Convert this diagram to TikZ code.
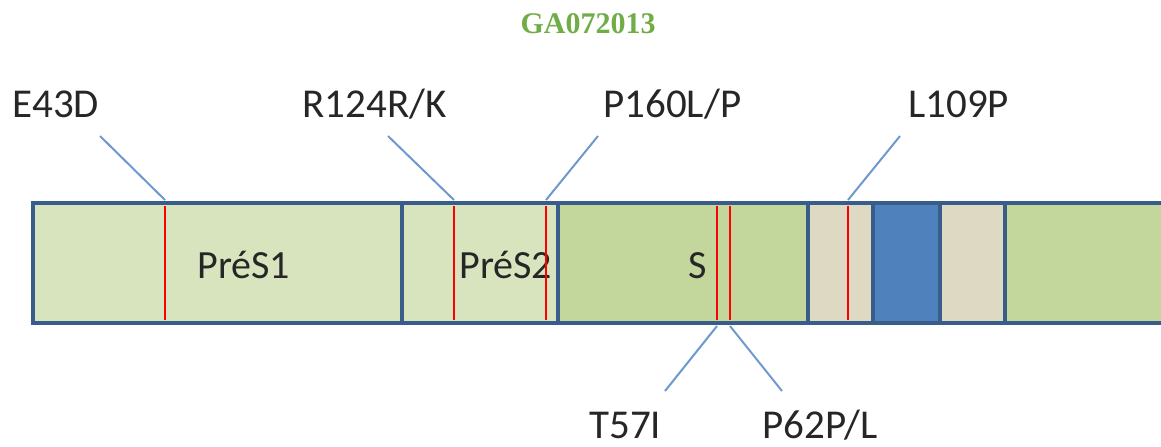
\documentclass[tikz,border=0pt]{standalone}
\usepackage{fontspec}
\setmainfont{Carlito}
\newfontfamily\titlefont{Liberation Serif}
\usetikzlibrary{positioning}
\definecolor{frameblue}{RGB}{56,93,138}
\definecolor{leadblue}{RGB}{110,152,206}
\definecolor{preslight}{RGB}{215,228,189}
\definecolor{sgreen}{RGB}{195,214,155}
\definecolor{sandbeige}{RGB}{221,217,195}
\definecolor{tmblue}{RGB}{79,129,189}
\definecolor{titlegreen}{RGB}{112,173,71}

\begin{document}
\begin{tikzpicture}[x=0.5pt, y=-0.5pt,
    seg/.style={draw=frameblue, line width=1.8pt},
    mut/.style={red, line width=0.9pt},
    lead/.style={leadblue, line width=1pt},
    lbl/.style={anchor=base west, inner sep=0pt, text=black!85, font=\fontsize{20.5}{24}\selectfont},
    dom/.style={anchor=base west, inner sep=0pt, text=black!85, font=\fontsize{20}{24}\selectfont}]
    \clip (0,0) rectangle (1161,446);
    \node[anchor=base, inner sep=0pt, text=titlegreen, font=\titlefont\bfseries\fontsize{15}{18}\selectfont] (title) at (588,33) {GA072013};
    % the gene bar
    \draw[seg, fill=preslight] (33,203) rectangle (402,323);
    \draw[seg, fill=preslight] (402,203) rectangle (558,323);
    \draw[seg, fill=sgreen] (558,203) rectangle (808,323);
    \draw[seg, fill=sandbeige] (808,203) rectangle (873,323);
    \draw[seg, fill=tmblue] (873,203) rectangle (940,323);
    \draw[seg, fill=sandbeige] (940,203) rectangle (1005,323);
    \draw[seg, fill=sgreen] (1005,203) rectangle (1180,323);
    \node[dom] (pres1) at (197,278) {PréS1};
    \node[dom] (pres2) at (459,278) {PréS2};
    \node[dom] (s) at (688,278) {S};
    % mutation sites
    \foreach \x/\n in {165/e43, 454/r124, 546/p160, 717/t57, 730/p62, 848/l109} {
        \coordinate (\n-top) at (\x,200);
        \coordinate (\n-bot) at (\x,326);
        \draw[mut] (\x,206) -- (\x,320);
    }
    % labels
    \node[lbl] (e43) at (12,117) {E43D};
    \node[lbl] (r124) at (302,117) {R124R/K};
    \node[lbl] (p160) at (603,117) {P160L/P};
    \node[lbl] (l109) at (908,117) {L109P};
    \node[lbl] (t57) at (589,438) {T57I};
    \node[lbl] (p62) at (762,438) {P62P/L};
    \coordinate (e43-end) at (100,136);
    \coordinate (r124-end) at (388,136);
    \coordinate (p160-end) at (598,136);
    \coordinate (l109-end) at (900,136);
    \coordinate (t57-end) at (665,391);
    \coordinate (p62-end) at (782,391);
    \draw[lead] (e43-end) -- (e43-top);
    \draw[lead] (r124-end) -- (r124-top);
    \draw[lead] (p160-end) -- (p160-top);
    \draw[lead] (l109-end) -- (l109-top);
    \draw[lead] (t57-end) -- (t57-bot);
    \draw[lead] (p62-end) -- (p62-bot);
\end{tikzpicture}
\end{document}
